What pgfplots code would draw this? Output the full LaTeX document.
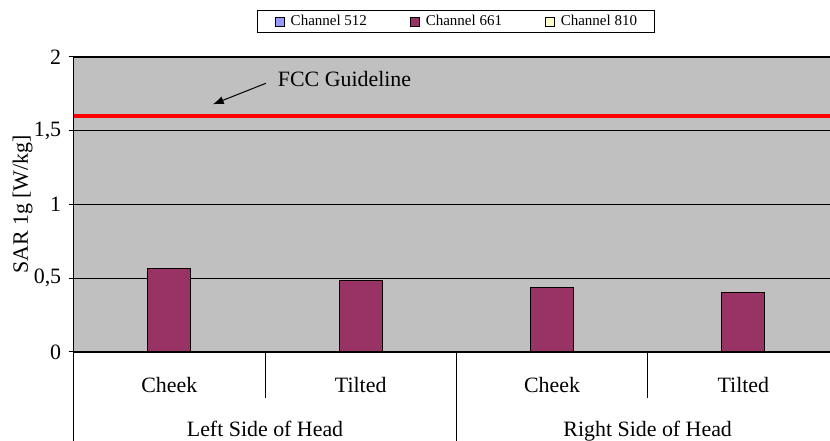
\documentclass[border=0pt]{standalone}
\usepackage{pgfplots}
\pgfplotsset{compat=1.18}
\usepackage{fontspec}
\setmainfont{Liberation Serif}
\usetikzlibrary{arrows.meta}
\definecolor{silverbg}{HTML}{C0C0C0}
\definecolor{plum}{HTML}{993366}
\definecolor{peri}{HTML}{9999FF}
\definecolor{ivory}{HTML}{FFFFCC}
\begin{document}
\fontsize{21.9}{26}\selectfont
\begin{tikzpicture}
\pgfplotsset{sqlegend/.style={legend image code/.code={\draw[##1, line width=0.8pt] (0pt,-4.5pt) rectangle (9pt,4.5pt);}}}
\begin{axis}[
  at={(0pt,0pt)}, anchor=south west,
  scale only axis, width=756.3pt, height=295pt,
  xmin=-0.5, xmax=3.453, ymin=0, ymax=2,
  clip=false,
  axis x line*=bottom, axis y line*=left,
  axis line style={black, line width=1.5pt},
  axis background/.style={fill=silverbg},
  xtick={0,1,2,3},
  xticklabels={Cheek,Tilted,Cheek,Tilted},
  xtick style={draw=none},
  xticklabel style={anchor=base, inner sep=0pt, yshift=-40.3pt},
  ytick={0,0.5,1,1.5,2},
  ytick align=outside,
  major tick length=5pt,
  ytick style={black, line width=1pt},
  /pgf/number format/assume math mode=true,
  /pgf/number format/use comma,
  ymajorgrids,
  major grid style={black, line width=1pt},
  ylabel={SAR 1g [W/kg]},
  ylabel style={at={(axis description cs:-0.0676,0.5)}, anchor=center},
  legend columns=3,
  legend style={at={(axis description cs:0.5055,1.1193)}, anchor=center,
    draw=black, line width=1pt, fill=white,
    font=\fontsize{15}{18}\selectfont,
    inner xsep=17pt, inner ysep=4.2pt,
    nodes={inner sep=0pt},
    /tikz/every odd column/.append style={column sep=6pt},
    /tikz/every even column/.append style={column sep=43pt}},
]
\addlegendimage{sqlegend, fill=peri, draw=black}
\addlegendentry{Channel 512}
\addplot[ybar, bar width=43pt, fill=plum, draw=black, line width=1pt, sqlegend]
  coordinates {(0,0.567) (1,0.486) (2,0.436) (3,0.402)};
\addlegendentry{Channel 661}
\addlegendimage{sqlegend, fill=ivory, draw=black}
\addlegendentry{Channel 810}
\addplot[red, line width=4pt, forget plot] coordinates {(-0.5,1.6) (3.453,1.6)};
\draw[black, line width=1.5pt] (rel axis cs:0,1) -- (rel axis cs:1,1);
\draw[-{Latex[length=11pt,width=8pt]}, black, line width=1pt] (axis cs:0.505,1.822) -- (axis cs:0.2266,1.679);
\node[anchor=base west, inner sep=0pt] at (axis cs:0.5664,1.799) {FCC Guideline};
\draw[black, line width=1pt] (axis cs:0.5,0) -- ++(0pt,-46pt);
\draw[black, line width=1pt] (axis cs:2.5,0) -- ++(0pt,-46pt);
\draw[black, line width=1pt] (axis cs:-0.5,0) -- ++(0pt,-89pt);
\draw[black, line width=1pt] (axis cs:1.5,0) -- ++(0pt,-89pt);
\node[anchor=base, inner sep=0pt] at ([yshift=-84.7pt]axis cs:0.5,0) {Left Side of Head};
\node[anchor=base, inner sep=0pt] at ([yshift=-84.7pt]axis cs:2.5,0) {Right Side of Head};
\end{axis}
\pgfresetboundingbox
\useasboundingbox (-73.7pt,-89pt) rectangle (756.3pt,352pt);
\end{tikzpicture}
\end{document}
